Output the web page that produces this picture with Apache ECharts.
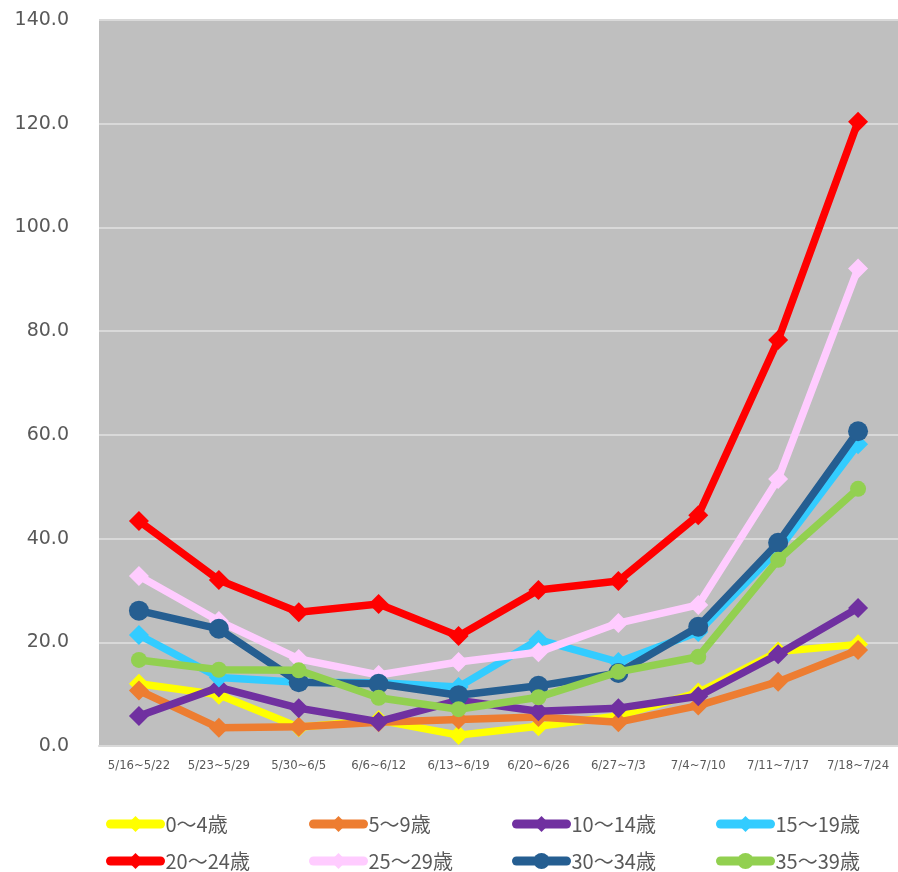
<!DOCTYPE html>
<html><head><meta charset="utf-8">
<script src="https://cdn.jsdelivr.net/npm/echarts@6/dist/echarts.min.js"></script>
<style>html,body{margin:0;padding:0;background:#fff}#c{width:898px;height:872px}</style>
</head><body><div id="c"></div>
<script>
const categories = ['5/16~5/22','5/23~5/29','5/30~6/5','6/6~6/12','6/13~6/19','6/20~6/26','6/27~7/3','7/4~7/10','7/11~7/17','7/18~7/24'];
const names = ['0～4歳','5～9歳','10～14歳','15～19歳','20～24歳','25～29歳','30～34歳','35～39歳'];
const age0_4   = [12.0, 9.9, 3.6, 5.0, 2.1, 3.8, 5.8, 10.3, 18.2, 19.6];
const age5_9   = [10.7, 3.5, 3.7, 4.6, 5.1, 5.6, 4.6, 7.8, 12.4, 18.5];
const age10_14 = [5.8, 11.3, 7.3, 4.7, 8.8, 6.7, 7.3, 9.6, 17.7, 26.6];
const age15_19 = [21.4, 13.2, 12.3, 12.2, 11.4, 20.5, 16.2, 22.0, 37.8, 58.2];
const age20_24 = [43.4, 32.0, 25.8, 27.4, 21.2, 30.1, 31.8, 44.5, 78.3, 120.4];
const age25_29 = [32.8, 24.1, 16.8, 13.7, 16.2, 18.1, 23.7, 27.2, 51.5, 92.1];
const age30_34 = [26.1, 22.6, 12.3, 12.0, 9.8, 11.6, 14.1, 23.0, 39.2, 60.7];
const age35_39 = [16.6, 14.7, 14.6, 9.3, 7.1, 9.4, 14.3, 17.2, 35.9, 49.6];
const yTicks = [0, 20, 40, 60, 80, 100, 120, 140];

const seriesData = [age0_4, age5_9, age10_14, age15_19, age20_24, age25_29, age30_34, age35_39];
const colors = ['#ffff00','#ed7d31','#7030a0','#33ccff','#ff0000','#ffccff','#255e91','#92d050'];
const symbols = ['diamond','diamond','diamond','diamond','diamond','diamond','circle','circle'];
const symSizes = [20,20,20,20,20,20,20,16];

const chart = echarts.init(document.getElementById('c'));
const series = names.map((n,i)=>({
  name:n, type:'line', data:seriesData[i], symbol:symbols[i], symbolSize:symSizes[i],
  showSymbol:true, lineStyle:{color:colors[i], width:7.5}, itemStyle:{color:colors[i]},
  animation:false, z:2+i
}));
const legendCols = [106, 309, 512, 716];
const legends = names.map((n,i)=>({
  data:[n], left:legendCols[i%4], top: i<4 ? 814 : 851, itemWidth:50, itemHeight:20, itemGap:0, padding:0,
  lineStyle:{width:9, cap:'round'},
  textStyle:{color:'#595959', fontSize:20, fontFamily:'"Noto Sans CJK JP", sans-serif', padding:[0,0,0,0]}
}));
chart.setOption({
  animation:false,
  backgroundColor:'#ffffff',
  grid:{left:99, right:0, top:20, bottom:126, show:true, backgroundColor:'#bfbfbf', borderWidth:0},
  legend:legends,
  xAxis:{type:'category', data:categories, boundaryGap:true,
    axisLine:{show:true, lineStyle:{color:'#d9d9d9', width:2}}, axisTick:{show:false},
    axisLabel:{color:'#595959', fontSize:13, margin:13, interval:0, fontFamily:'"Liberation Sans Narrow", "DejaVu Sans Condensed", sans-serif'}},
  yAxis:{type:'value', min:yTicks[0], max:yTicks[yTicks.length-1], interval:20,
    axisLine:{show:false}, axisTick:{show:false},
    splitLine:{show:true, lineStyle:{color:'#d9d9d9', width:2}},
    axisLabel:{color:'#595959', fontSize:19, margin:30, fontFamily:'"DejaVu Sans", sans-serif', formatter:v=>v.toFixed(1)}},
  series:series
});
</script></body></html>
